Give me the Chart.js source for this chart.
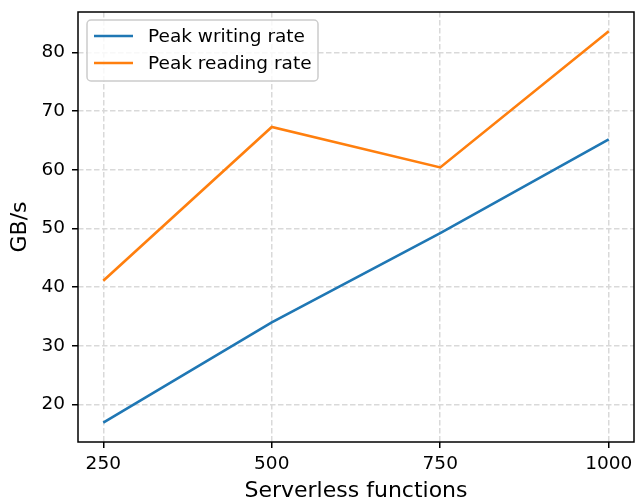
<!DOCTYPE html>
<html lang="en">

<head>
  <meta charset="UTF-8">
  <script src="https://cdn.jsdelivr.net/npm/chart.js@4.4.1/dist/chart.umd.min.js"></script>
  <title>Peak rates</title>
  <style>
    body { margin: 0; background: #fff; }
  </style>
</head>

<body>
  <canvas id="myChart" width="635" height="504"></canvas>
  <script>
    const functions = [250, 500, 750, 1000];
    const writeRate = [16.9, 34.0, 49.2, 65.2];
    const readRate = [41.1, 67.3, 60.4, 83.6];
    const xTicks = [250, 500, 750, 1000];
    const yTicks = [20, 30, 40, 50, 60, 70, 80];

    const font = "'DejaVu Sans', sans-serif";

    // frame on all four sides plus an inset legend, matplotlib style
    const framePlugin = {
      id: 'frame',
      afterDraw(chart) {
        const ctx = chart.ctx;
        const a = chart.chartArea;
        ctx.save();
        ctx.strokeStyle = '#000';
        ctx.lineWidth = 1.5;
        ctx.strokeRect(a.left, a.top, a.right - a.left, a.bottom - a.top);

        // legend box
        const bx = a.left + 9, by = a.top + 8, bw = 231, bh = 61;
        ctx.beginPath();
        ctx.roundRect(bx, by, bw, bh, 4);
        ctx.fillStyle = 'rgba(255,255,255,0.8)';
        ctx.fill();
        ctx.strokeStyle = '#cccccc';
        ctx.lineWidth = 1.5;
        ctx.stroke();

        ctx.font = '18.5px ' + font;
        ctx.textBaseline = 'middle';
        ctx.fillStyle = '#000';
        chart.data.datasets.forEach((ds, i) => {
          const yy = by + 16 + i * 27;
          ctx.beginPath();
          ctx.moveTo(bx + 7, yy);
          ctx.lineTo(bx + 46, yy);
          ctx.strokeStyle = ds.borderColor;
          ctx.lineWidth = 2.6;
          ctx.stroke();
          ctx.fillText(ds.label, bx + 61, yy + 1);
        });
        ctx.restore();
      }
    };

    new Chart("myChart", {
      type: 'line',
      data: {
        datasets: [{
          label: 'Peak writing rate',
          data: functions.map((f, i) => ({ x: f, y: writeRate[i] })),
          borderColor: '#1f77b4',
          borderWidth: 2.6,
          pointRadius: 0,
          tension: 0
        }, {
          label: 'Peak reading rate',
          data: functions.map((f, i) => ({ x: f, y: readRate[i] })),
          borderColor: '#ff7f0e',
          borderWidth: 2.6,
          pointRadius: 0,
          tension: 0
        }]
      },
      options: {
        responsive: false,
        animation: false,
        layout: { padding: { top: 12, right: 1 } },
        plugins: {
          legend: { display: false },
          tooltip: { enabled: false }
        },
        scales: {
          x: {
            type: 'linear',
            min: 212.5,
            max: 1037.5,
            afterBuildTicks: s => { s.ticks = xTicks.map(v => ({ value: v })); },
            afterFit: s => { s.height = 62; s.paddingLeft = 0; s.paddingRight = 0; },
            grid: {
              color: '#d9d9d9',
              lineWidth: 1.5,
              tickColor: '#000',
              tickBorderDash: [],
              tickLength: 6
            },
            border: { display: false, dash: [5.5, 2.5] },
            ticks: {
              color: '#000',
              font: { family: font, size: 18.5 },
              padding: 5,
              maxRotation: 0,
              callback: v => v
            },
            title: {
              display: true,
              text: 'Serverless functions',
              color: '#000',
              font: { family: font, size: 22 },
              padding: { top: 0, bottom: 0 }
            }
          },
          y: {
            min: 13.6,
            max: 86.9,
            afterBuildTicks: s => { s.ticks = yTicks.map(v => ({ value: v })); },
            afterFit: s => { s.width = 78; s.paddingTop = 0; s.paddingBottom = 0; },
            grid: {
              color: '#d9d9d9',
              lineWidth: 1.5,
              tickColor: '#000',
              tickBorderDash: [],
              tickLength: 6
            },
            border: { display: false, dash: [5.5, 2.5] },
            ticks: {
              color: '#000',
              font: { family: font, size: 18.5 },
              padding: 7,
              callback: v => v
            },
            title: {
              display: true,
              text: 'GB/s',
              color: '#000',
              font: { family: font, size: 22 },
              padding: { top: 7, bottom: 4 }
            }
          }
        }
      },
      plugins: [framePlugin]
    });
  </script>
</body>

</html>
